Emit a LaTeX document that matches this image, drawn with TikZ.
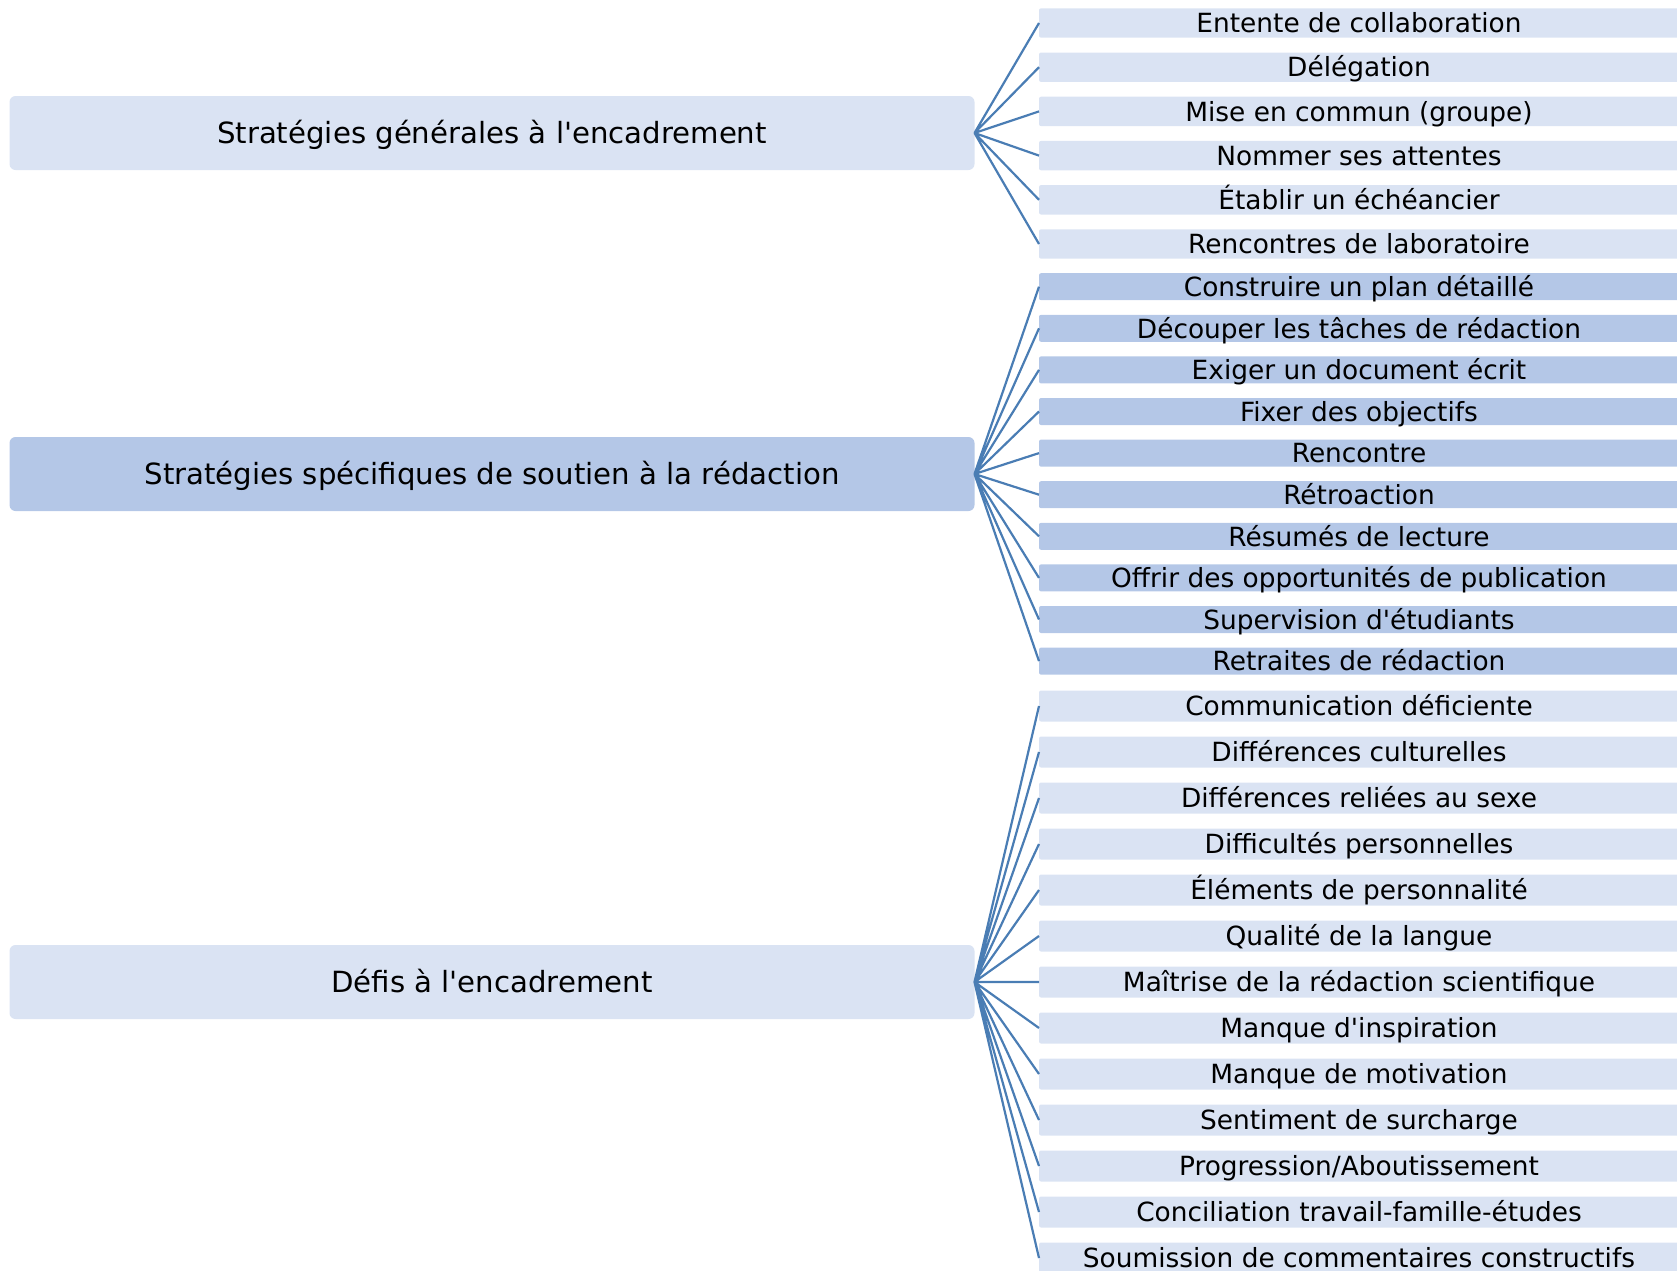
\documentclass[tikz,border=0pt]{standalone}
\usepackage{fontspec}
\setmainfont{DejaVu Sans}
\usepackage{xcolor}
\usetikzlibrary{positioning}
\definecolor{paleblue}{HTML}{DAE3F3}
\definecolor{midblue} {HTML}{B4C7E7}
\definecolor{linkcol} {HTML}{4A7DB4}

\begin{document}
\begin{tikzpicture}[
    x=0.5pt, y=-0.5pt,
    catbox/.style  = {
        rounded corners=3pt, inner sep=0pt, outer sep=0pt,
        minimum width=482.5pt, minimum height=37pt,
        text height=12pt, text depth=2pt,
        font=\fontsize{14.6}{17}\selectfont
    },
    itembox/.style = {
        rounded corners=1pt, inner sep=0pt, outer sep=0pt,
        minimum width=320pt, text height=11pt, text depth=1.3pt,
        font=\fontsize{13.2}{15}\selectfont
    },
    genbox/.style  = {itembox, fill=paleblue, minimum height=14.7pt},
    specbox/.style = {itembox, fill=midblue,  minimum height=13.5pt},
    defbox/.style  = {itembox, fill=paleblue, minimum height=15.5pt},
    link/.style    = {draw=linkcol, line width=1.1pt}
  ]
  \useasboundingbox (0,0) rectangle (1677,1270);

  %% Categories
  \node[catbox, fill=paleblue] (gen)  at (492,133)
        {Stratégies générales à l\textquotesingle encadrement};
  \node[catbox, fill=midblue]  (spec) at (492,474)
        {Stratégies spécifiques de soutien à la rédaction};
  \node[catbox, fill=paleblue] (def)  at (492,982)
        {Défis à l\textquotesingle encadrement};

  %% General strategies
  \node[genbox] (g1) at (1359,23) {Entente de collaboration};
  \node[genbox, below=7.4pt of g1] (g2) {Délégation};
  \node[genbox, below=7.4pt of g2] (g3) {Mise en commun (groupe)};
  \node[genbox, below=7.4pt of g3] (g4) {Nommer ses attentes};
  \node[genbox, below=7.4pt of g4] (g5) {Établir un échéancier};
  \node[genbox, below=7.4pt of g5] (g6) {Rencontres de laboratoire};

  %% Writing support strategies
  \node[specbox] (s1) at (1359,286.7) {Construire un plan détaillé};
  \node[specbox, below=7.3pt of s1] (s2)  {Découper les tâches de rédaction};
  \node[specbox, below=7.3pt of s2] (s3)  {Exiger un document écrit};
  \node[specbox, below=7.3pt of s3] (s4)  {Fixer des objectifs};
  \node[specbox, below=7.3pt of s4] (s5)  {Rencontre};
  \node[specbox, below=7.3pt of s5] (s6)  {Rétroaction};
  \node[specbox, below=7.3pt of s6] (s7)  {Résumés de lecture};
  \node[specbox, below=7.3pt of s7] (s8)  {Offrir des opportunités de publication};
  \node[specbox, below=7.3pt of s8] (s9)  {Supervision d\textquotesingle étudiants};
  \node[specbox, below=7.3pt of s9] (s10) {Retraites de rédaction};

  %% Challenges
  \node[defbox] (d1) at (1359,706) {Communication déficiente};
  \node[defbox, below=7.5pt of d1]  (d2)  {Différences culturelles};
  \node[defbox, below=7.5pt of d2]  (d3)  {Différences reliées au sexe};
  \node[defbox, below=7.5pt of d3]  (d4)  {Difficultés personnelles};
  \node[defbox, below=7.5pt of d4]  (d5)  {Éléments de personnalité};
  \node[defbox, below=7.5pt of d5]  (d6)  {Qualité de la langue};
  \node[defbox, below=7.5pt of d6]  (d7)  {Maîtrise de la rédaction scientifique};
  \node[defbox, below=7.5pt of d7]  (d8)  {Manque d\textquotesingle inspiration};
  \node[defbox, below=7.5pt of d8]  (d9)  {Manque de motivation};
  \node[defbox, below=7.5pt of d9]  (d10) {Sentiment de surcharge};
  \node[defbox, below=7.5pt of d10] (d11) {Progression/Aboutissement};
  \node[defbox, below=7.5pt of d11] (d12) {Conciliation travail-famille-études};
  \node[defbox, below=7.5pt of d12] (d13) {Soumission de commentaires constructifs};

  %% Fans
  \draw[link] (gen.east) -- (g1.west)  (gen.east) -- (g2.west)
              (gen.east) -- (g3.west)  (gen.east) -- (g4.west)
              (gen.east) -- (g5.west)  (gen.east) -- (g6.west);
  \draw[link] (spec.east) -- (s1.west) (spec.east) -- (s2.west)
              (spec.east) -- (s3.west) (spec.east) -- (s4.west)
              (spec.east) -- (s5.west) (spec.east) -- (s6.west)
              (spec.east) -- (s7.west) (spec.east) -- (s8.west)
              (spec.east) -- (s9.west) (spec.east) -- (s10.west);
  \draw[link] (def.east) -- (d1.west)  (def.east) -- (d2.west)
              (def.east) -- (d3.west)  (def.east) -- (d4.west)
              (def.east) -- (d5.west)  (def.east) -- (d6.west)
              (def.east) -- (d7.west)  (def.east) -- (d8.west)
              (def.east) -- (d9.west)  (def.east) -- (d10.west)
              (def.east) -- (d11.west) (def.east) -- (d12.west)
              (def.east) -- (d13.west);

\end{tikzpicture}
\end{document}
